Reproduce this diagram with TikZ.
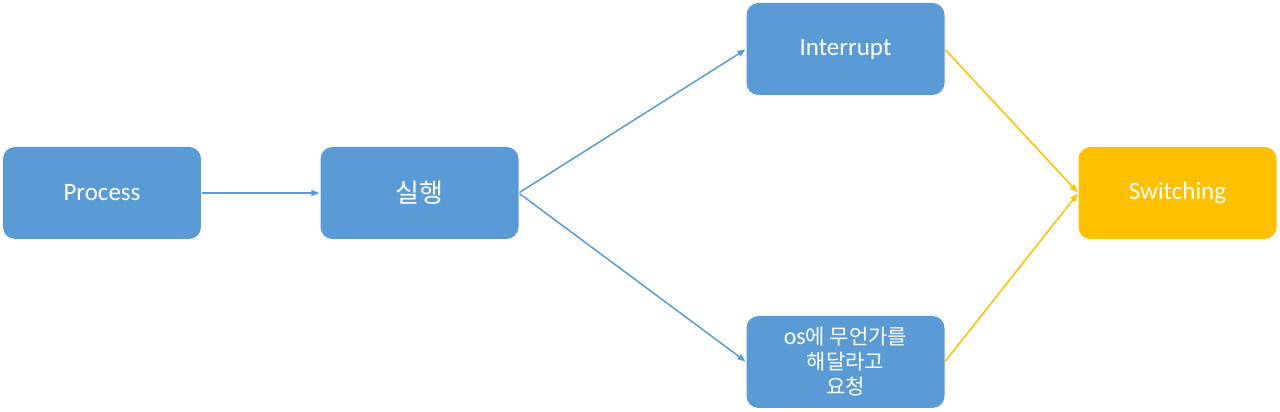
\documentclass[tikz,border=0pt]{standalone}
\usepackage{fontspec}
\setmainfont{Carlito}
\newfontfamily\kr{Noto Sans CJK KR}
\usetikzlibrary{arrows.meta}
\definecolor{boxblue}{HTML}{5B9BD5}
\definecolor{boxorange}{HTML}{FFC000}
\begin{document}
\begin{tikzpicture}[x=1pt,y=1pt,
  box/.style={rectangle, rounded corners=12pt, fill=#1, draw=none, minimum width=198pt, minimum height=92pt, text=white, font=\fontsize{25}{30}\selectfont, align=center, inner sep=0pt},
  box/.default=boxblue,
  conn/.style={draw=#1, line width=1.5pt, -{Triangle[length=8pt,width=6pt]}, shorten >=1pt, shorten <=1pt}]
\useasboundingbox (0,0) rectangle (1280,412);
\node[box] (p) at (102,219) {Process};
\node[box, font=\kr\fontsize{26}{30}\selectfont] (r) at (419.5,219) {실행};
\node[box] (i) at (845.5,363) {Interrupt};
\node[box, font=\kr\fontsize{21}{25}\selectfont] (o) at (845.5,50) {{\fontspec{Carlito}\fontsize{24}{25}\selectfont os}에 무언가를\\해달라고\\요청};
\node[box=boxorange] (s) at (1177.5,219) {Switching};
\draw[conn=boxblue] (p.east) -- (r.west);
\draw[conn=boxblue] (r.east) -- (i.west);
\draw[conn=boxblue] (r.east) -- (o.west);
\draw[conn=boxorange] (i.east) -- (s.west);
\draw[conn=boxorange] (o.east) -- (s.west);
\end{tikzpicture}
\end{document}
